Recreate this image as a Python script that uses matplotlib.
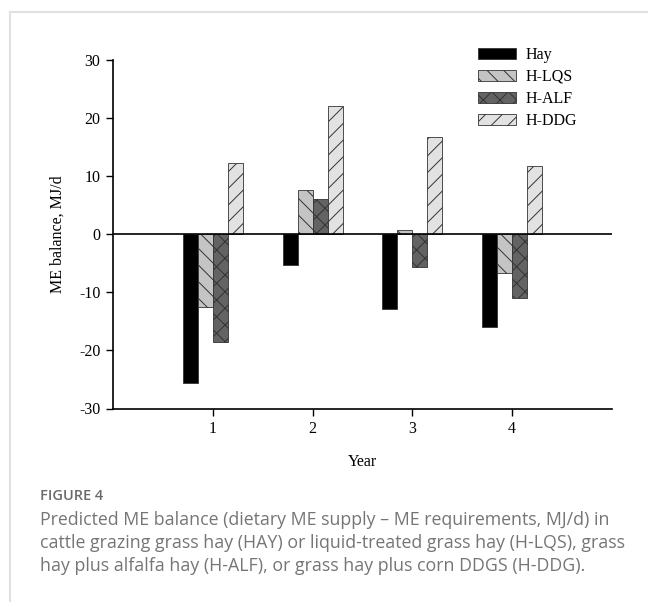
import numpy as np
import matplotlib
matplotlib.use('Agg')
import matplotlib.pyplot as plt
from matplotlib.lines import Line2D

# data
years = [1, 2, 3, 4]
hay = [-25.6, -5.3, -12.9, -16.0]
h_lqs = [-12.6, 7.7, 0.7, -6.6]
h_alf = [-18.6, 6.0, -5.6, -11.0]
h_ddg = [12.2, 22.1, 16.7, 11.8]
names = ['Hay', 'H-LQS', 'H-ALF', 'H-DDG']

plt.rcParams['font.family'] = ['Liberation Serif', 'DejaVu Serif']
plt.rcParams['hatch.linewidth'] = 0.7
plt.rcParams['axes.unicode_minus'] = False

fig = plt.figure(figsize=(6.48, 6.02), dpi=100)
W, H = 648, 602
ax = fig.add_axes([113 / W, 1 - 408.5 / H, 499 / W, 348.5 / H])

x = np.array(years)
w = 0.15
series = [hay, h_lqs, h_alf, h_ddg]
fills = ['#000000', '#c4c4c4', '#636363', '#e2e2e2']
hatches = [None, '\\\\', 'xx', '//']
offs = [-1.5, -0.5, 0.5, 1.5]
for vals, c, h, o, n in zip(series, fills, hatches, offs, names):
    ax.bar(x + o * w, vals, w, color=c, edgecolor='#333333', linewidth=0.6,
           hatch=h, label=n)

ax.axhline(0, color='black', lw=1.2)
ax.set_xlim(0, 5)
ax.set_ylim(-30, 30)
ax.set_xticks(years)
ax.set_yticks(range(-30, 31, 10))
for s in ['top', 'right']:
    ax.spines[s].set_visible(False)
for s in ['left', 'bottom']:
    ax.spines[s].set_linewidth(1.2)
ax.tick_params(labelsize=11.5, length=5, width=1, pad=4)
ax.set_xlabel('Year', fontsize=11.5, labelpad=12)
ax.set_ylabel('ME balance, MJ/d', fontsize=11.5, labelpad=10)

leg = ax.legend(loc='upper left', bbox_to_anchor=(0.731, 1.038), frameon=False,
                fontsize=11.5, handlelength=2.4, handleheight=0.7,
                handletextpad=0.6, labelspacing=0.38, borderpad=0,
                borderaxespad=0)

# page frame lines
fig.add_artist(Line2D([9.5 / W, 9.5 / W], [0, 1 - 12 / H], color='#e0e0e0', lw=1.5))
fig.add_artist(Line2D([9.5 / W, 1], [1 - 12 / H, 1 - 12 / H], color='#e0e0e0', lw=1.5))

# caption
cap = ['Predicted ME balance (dietary ME supply \u2013 ME requirements, MJ/d) in',
       'cattle grazing grass hay (HAY) or liquid-treated grass hay (H-LQS), grass',
       'hay plus alfalfa hay (H-ALF), or grass hay plus corn DDGS (H-DDG).']
fig.text(40 / W, 1 - 496 / H, 'FIGURE 4', family='Open Sans', fontsize=10.5,
         weight='semibold', color='#6b6b6b', va='center')
for i, line in enumerate(cap):
    fig.text(40 / W, 1 - (520 + 23 * i) / H, line, family='Open Sans',
             fontsize=12.8, color='#757575', va='center')

fig.savefig('out.png', dpi=100)
